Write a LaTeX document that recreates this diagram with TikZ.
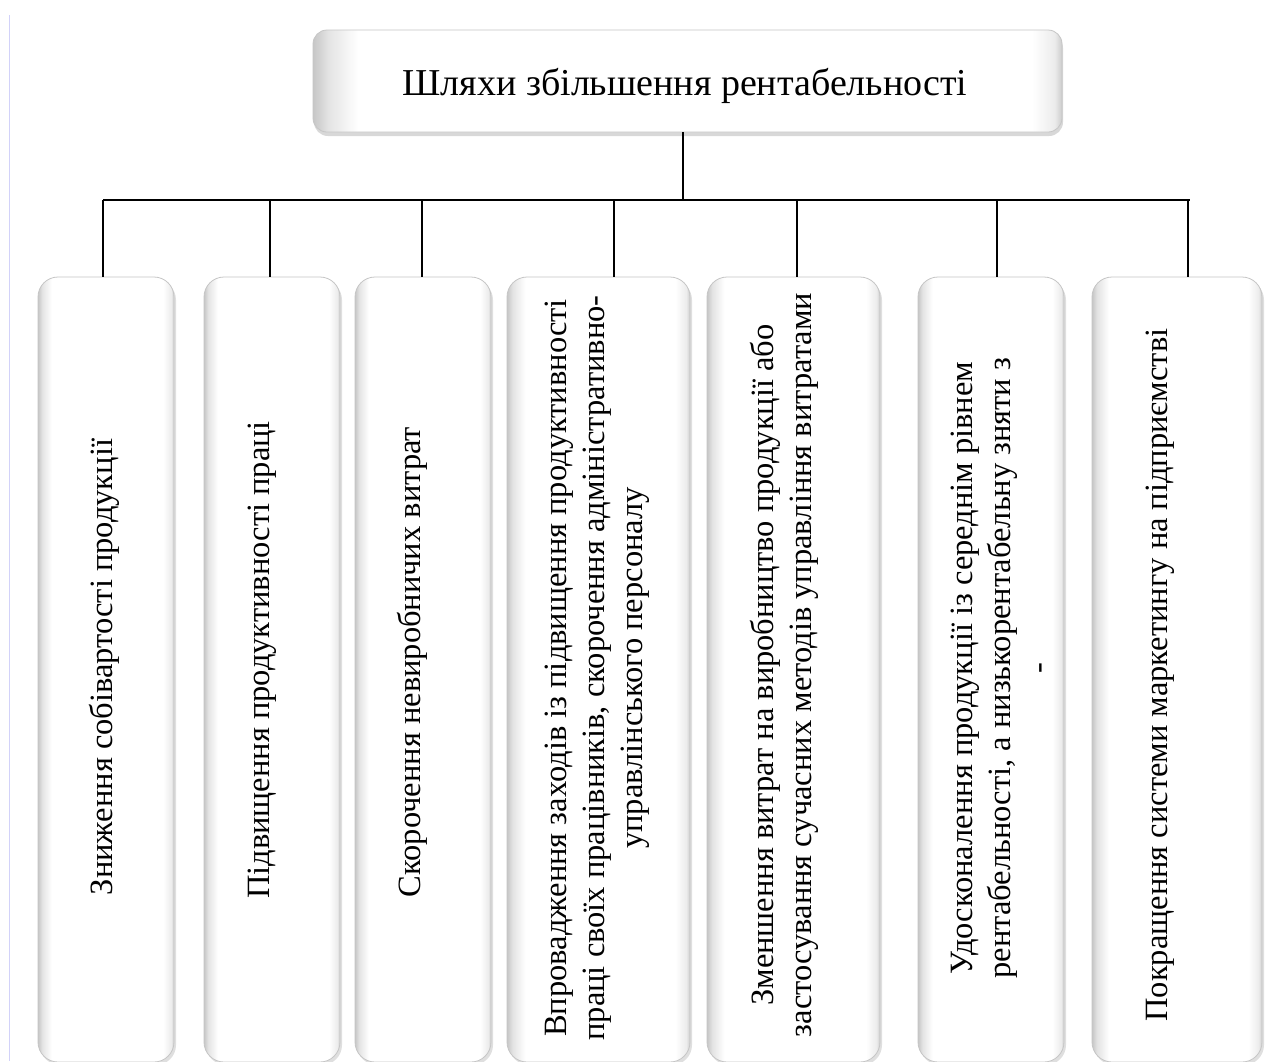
\documentclass[tikz,border=0pt]{standalone}
\usepackage{fontspec}
\setmainfont{Liberation Serif}
\usetikzlibrary{shadows}
\pgfdeclarehorizontalshading{boxshade}{100bp}{color(0bp)=(gray!45); color(25bp)=(gray!45); color(26.5bp)=(gray!22); color(30bp)=(white); color(71bp)=(white); color(74bp)=(gray!15); color(75bp)=(gray!40); color(100bp)=(gray!40)}
\pgfdeclarehorizontalshading{topshade}{100bp}{color(0bp)=(gray!45); color(25bp)=(gray!45); color(26bp)=(gray!22); color(28bp)=(white); color(73bp)=(white); color(74.5bp)=(gray!15); color(75bp)=(gray!40); color(100bp)=(gray!40)}
\tikzset{
  pillbox/.style={draw=gray!45, line width=0.8pt, rounded corners=20pt, shading=boxshade, inner sep=0pt,
    drop shadow={shadow xshift=2pt, shadow yshift=-3pt, opacity=0.25}},
  titlebox/.style={draw=gray!45, line width=0.8pt, rounded corners=14pt, shading=topshade, inner sep=0pt,
    drop shadow={shadow xshift=1pt, shadow yshift=-4pt, opacity=0.3}},
  vtxt/.style={rotate=90, align=center, font=\fontsize{32.5}{38}\selectfont, inner sep=0pt},
  ttxt/.style={font=\fontsize{38}{44}\selectfont, inner sep=0pt},
  trunk/.style={line width=2.2pt},
  branch/.style={line width=1.3pt},
}
\begin{document}
\begin{tikzpicture}[x=1pt,y=-1pt]
\useasboundingbox[fill=white] (0,0) rectangle (1286,1061);
\draw[gray!25!blue!20, line width=1pt] (9,15) -- (9,1061);

% title
\node[titlebox, minimum width=749pt, minimum height=102pt] (top) at (687.5,81) {};
\node[ttxt] (toptxt) at (685,86) {Шляхи збільшення рентабельності};

% boxes
\node[pillbox, minimum width=136pt, minimum height=785pt] (b1) at (106,669.5) {};
\node[pillbox, minimum width=136pt, minimum height=785pt] (b2) at (272,669.5) {};
\node[pillbox, minimum width=136pt, minimum height=785pt] (b3) at (423,669.5) {};
\node[pillbox, minimum width=183pt, minimum height=785pt] (b4) at (598.5,669.5) {};
\node[pillbox, minimum width=173pt, minimum height=785pt] (b5) at (793.5,669.5) {};
\node[pillbox, minimum width=146pt, minimum height=785pt] (b6) at (991,669.5) {};
\node[pillbox, minimum width=170pt, minimum height=785pt] (b7) at (1177,669.5) {};

\node[vtxt] (t1) at (104,667) {Зниження собівартості продукції};
\node[vtxt] (t2) at (262,660) {Підвищення продуктивності праці};
\node[vtxt] (t3) at (412,662) {Скорочення невиробничих витрат};
\node[vtxt] (t4) at (597,668) {Впровадження заходів із підвищення продуктивності\\праці своїх працівників, скорочення адміністративно-\\управлінського персоналу};
\node[vtxt] (t5) at (784,665) {Зменшення витрат на виробництво продукції або\\застосування сучасних методів управління витратами};
\node[vtxt] (t6) at (1000,668) {Удосконалення продукції із середнім рівнем\\рентабельності, а низькорентабельну зняти з\\-};
\node[vtxt] (t7) at (1160,675) {Покращення системи маркетингу на підприємстві};

% connectors
\coordinate (hub) at (683,200);
\coordinate (hl) at (103,200);
\coordinate (hr) at (1190,200);
\coordinate (d1) at (103,200);
\coordinate (d2) at (270,200);
\coordinate (d3) at (422,200);
\coordinate (d4) at (614,200);
\coordinate (d5) at (797,200);
\coordinate (d6) at (997,200);
\coordinate (d7) at (1188,200);
\draw[trunk] (top.south -| hub) -- (hub);
\draw[trunk] (hl) -- (hr);
\foreach \i in {1,...,7}{
  \draw[branch] (d\i) -- (d\i |- b\i.north);
}
\end{tikzpicture}
\end{document}
